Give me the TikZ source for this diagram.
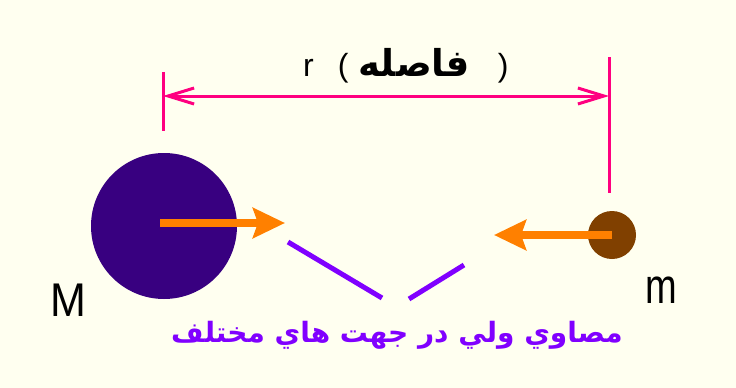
\documentclass[tikz,border=0pt]{standalone}
\usepackage{fontspec}
\setmainfont{Liberation Sans}
\newfontfamily\arabicfont[Script=Arabic]{DejaVu Sans}
\TeXXeTstate=1
\usetikzlibrary{arrows.meta}
\definecolor{paper}{HTML}{FFFFF0}
\definecolor{bigmass}{HTML}{380080}
\definecolor{smallmass}{HTML}{804000}
\definecolor{forcecol}{HTML}{FF8000}
\definecolor{dimcol}{HTML}{FF0080}
\definecolor{notecol}{HTML}{8000FF}
\begin{document}
\begin{tikzpicture}[x=1pt,y=-1pt,
        body/.style={circle,inner sep=0pt,minimum size=#1},
        force/.style={draw=forcecol,line width=8pt,-{Stealth[length=32pt,width=30pt,inset=5pt]}},
        dimline/.style={draw=dimcol,line width=3pt},
        pointer/.style={draw=notecol,line width=5pt},
        every node/.style={inner sep=0pt}]
        \fill [paper] (0,0) rectangle (736,388);
        \useasboundingbox (0,0) rectangle (736,388);
        % bodies
        \node [body=146pt,fill=bigmass] (M) at (164,226) {};
        \node [body=48pt,fill=smallmass] (m) at (612,235) {};
        \node (Mlab) at (68,300) {\fontsize{43}{43}\selectfont\scalebox{1}[1.1]{M}};
        \node (mlab) at (661,290) {\fontsize{38}{38}\selectfont\scalebox{1}[1.3]{m}};
        % forces
        \coordinate (FM) at (285,223);
        \coordinate (Fm) at (494,235);
        \draw [force] ([xshift=-4pt,yshift=3pt]M.center) -- (FM);
        \draw [force] (m.center) -- (Fm);
        % distance
        \coordinate (dL) at (163,96);
        \coordinate (dR) at (609,96);
        \draw [dimline] (163,72) -- (163,131);
        \draw [dimline] (609,57) -- (609,193);
        \draw [dimline,{Straight Barb[length=26pt,width=16pt]}-{Straight Barb[length=26pt,width=16pt]}] (dL) -- (dR);
        \node [anchor=base west] (dist) at (303,76) {\fontsize{32}{32}\selectfont r\hspace{24pt}(\hspace{10pt}{\fontsize{37}{37}\selectfont\arabicfont\bfseries\beginR فاصله\endR}\hspace{28pt})};
        % note
        \node [text=notecol] (note) at (397,335) {\fontsize{28}{28}\selectfont\arabicfont\bfseries\beginR مصاوي ولي در جهت هاي مختلف\endR};
        \coordinate (p1) at (288,242);
        \coordinate (p2) at (382,298);
        \coordinate (p3) at (464,265);
        \coordinate (p4) at (409,299);
        \draw [pointer] (p1) -- (p2);
        \draw [pointer] (p3) -- (p4);
\end{tikzpicture}
\end{document}
